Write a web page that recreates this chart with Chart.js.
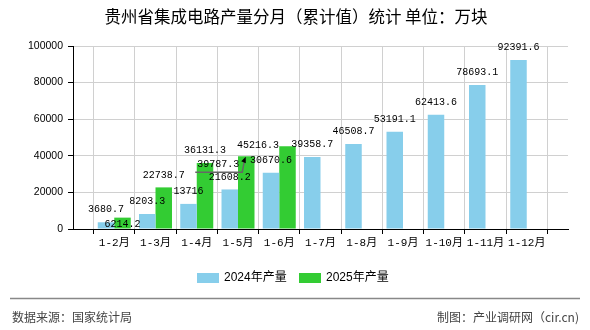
<!DOCTYPE html>
<html>
<head>
<meta charset="utf-8">
<script src="https://cdn.jsdelivr.net/npm/chart.js@4/dist/chart.umd.min.js"></script>
<style>
html,body{margin:0;padding:0;background:#fff;}
#wrap{position:relative;width:590px;height:330px;}
</style>
</head>
<body>
<div id="wrap"><canvas id="c" width="590" height="330"></canvas></div>
<script>
// ---- data ----
const categories = ['1-2月','1-3月','1-4月','1-5月','1-6月','1-7月','1-8月','1-9月','1-10月','1-11月','1-12月'];
const series2024 = [3680.7, 8203.3, 13716, 21608.2, 30670.6, 39358.7, 46508.7, 53191.1, 62413.6, 78693.1, 92391.6];
const series2025 = [6214.2, 22738.7, 36131.3, 39787.3, 45216.3];
const yTicks = [0, 20000, 40000, 60000, 80000, 100000];
const seriesNames = ['2024年产量', '2025年产量'];
const titleText = '贵州省集成电路产量分月（累计值）统计 单位：万块';
const sourceText = '数据来源：国家统计局';
const creditText = '制图：产业调研网（cir.cn)';

// label nudges (pixels) for overlapping labels of 2025
const nudge2025 = [[0,19.5],[0,0],[0,0],[-28,21],[-29.5,12]];

const colors = ['#87CEEB', '#33CC33'];

const labels = [''].concat(categories, ['']);
const pad = (arr) => [null].concat(categories.map((_, i) => (i < arr.length ? arr[i] : null)), [null]);

const labelPlugin = {
  id: 'valueLabels',
  afterDatasetsDraw(chart) {
    const ctx = chart.ctx;
    ctx.save();
    ctx.font = '10px "Liberation Mono", "DejaVu Sans Mono", monospace';
    ctx.textAlign = 'center';
    ctx.textBaseline = 'middle';
    const srcs = [series2024, series2025];
    srcs.forEach((src, d) => {
      const meta = chart.getDatasetMeta(d);
      src.forEach((v, i) => {
        const el = meta.data[i + 1];
        if (!el) return;
        let dx = 0, dy = 0;
        if (d === 1 && nudge2025[i]) { dx = nudge2025[i][0]; dy = nudge2025[i][1]; }
        const lx = el.x + dx, ly = el.y - 12.5 + dy;
        if (d === 1 && i === 3) {
          ctx.strokeStyle = '#666';
          ctx.lineWidth = 1.5;
          ctx.beginPath();
          ctx.moveTo(lx - 23, ly + 7.5);
          ctx.lineTo(lx + 24, ly + 7.5);
          ctx.lineTo(el.x - 1.5, el.y + 3);
          ctx.stroke();
          ctx.fillStyle = '#000';
          ctx.beginPath();
          ctx.moveTo(el.x - 0.5, el.y + 0.5);
          ctx.lineTo(el.x - 5, el.y + 5);
          ctx.lineTo(el.x - 0.5, el.y + 7);
          ctx.closePath();
          ctx.fill();
        }
        ctx.fillStyle = '#000';
        ctx.fillText(String(v), lx, ly);
      });
    });
    ctx.restore();
  },
  afterDraw(chart) {
    const ctx = chart.ctx;
    ctx.save();
    ctx.fillStyle = '#000';
    ctx.font = '16.5px "Noto Sans CJK SC", sans-serif';
    ctx.textAlign = 'center';
    ctx.textBaseline = 'middle';
    ctx.fillText(titleText, 296, 17);
    ctx.font = '12px "Liberation Sans", "Noto Sans CJK SC", sans-serif';
    ctx.textAlign = 'left';
    const leg = [[197, 224], [299, 326]];
    seriesNames.forEach((n, k) => {
      ctx.fillStyle = colors[k];
      ctx.fillRect(leg[k][0], 273, 22, 10);
      ctx.fillStyle = '#000';
      ctx.fillText(n, leg[k][1], 278);
    });
    ctx.strokeStyle = '#888';
    ctx.lineWidth = 1.5;
    ctx.beginPath();
    ctx.moveTo(10, 298.5);
    ctx.lineTo(580, 298.5);
    ctx.stroke();
    ctx.fillStyle = '#444';
    ctx.font = '12px "Noto Sans CJK SC", sans-serif';
    ctx.fillText(sourceText, 12, 317);
    ctx.textAlign = 'right';
    ctx.fillText(creditText, 579, 317);
    ctx.restore();
  }
};

new Chart(document.getElementById('c'), {
  type: 'bar',
  data: {
    labels: labels,
    datasets: [
      { label: seriesNames[0], data: pad(series2024), backgroundColor: colors[0], categoryPercentage: 0.8, barPercentage: 1.0 },
      { label: seriesNames[1], data: pad(series2025), backgroundColor: colors[1], categoryPercentage: 0.8, barPercentage: 1.0 }
    ]
  },
  options: {
    responsive: false,
    animation: false,
    devicePixelRatio: 1,
    layout: { padding: { top: 46, right: 22, bottom: 0, left: 0 } },
    plugins: { legend: { display: false }, title: { display: false }, tooltip: { enabled: false } },
    scales: {
      x: {
        offset: false,
        grid: { color: '#d0d0d0', lineWidth: 1, tickColor: '#000', tickLength: 5, drawOnChartArea: true },
        border: { color: '#000', width: 1 },
        ticks: {
          autoSkip: false, maxRotation: 0, minRotation: 0, padding: 2,
          color: '#000',
          font: { family: '"Liberation Mono", "Noto Sans CJK SC", monospace', size: 11 }
        },
        afterFit(s) { s.height = 101; }
      },
      y: {
        min: 0, max: 100000,
        afterBuildTicks(s) { s.ticks = yTicks.map(v => ({ value: v })); },
        grid: { color: '#d0d0d0', lineWidth: 1, tickColor: '#000', tickLength: 5 },
        border: { color: '#000', width: 1 },
        ticks: {
          padding: 5, color: '#000',
          callback: (v) => String(v),
          font: { family: '"Liberation Sans", sans-serif', size: 10.5 }
        },
        afterFit(s) { s.width = 73; }
      }
    }
  },
  plugins: [labelPlugin]
});
</script>
</body>
</html>
